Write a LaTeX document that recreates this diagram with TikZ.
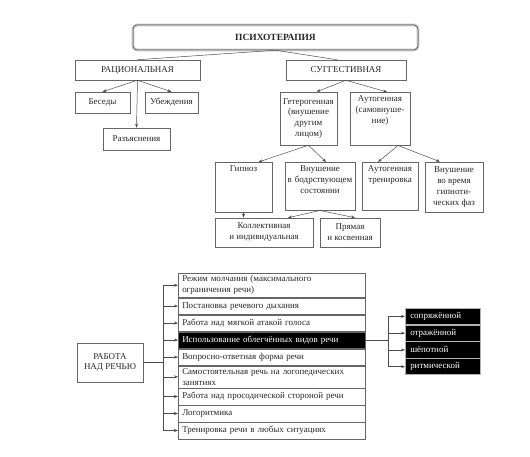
\documentclass[tikz,border=0pt]{standalone}
\usepackage{fontspec}
\setmainfont{Liberation Serif}
\usetikzlibrary{arrows.meta, positioning, calc}

\begin{document}
\begin{tikzpicture}[
    x=1bp, y=-1bp,
    >={Stealth[length=4pt, width=3pt]},
    font=\fontsize{9}{11}\selectfont,
    base/.style={draw=black!60, align=center, line width=0.5pt, inner xsep=2pt, inner ysep=2.5pt, text=black!85},
    head/.style={base, rounded corners=4bp, draw=black!70, preaction={draw=gray!45, line width=2.6pt}, minimum width=285bp, minimum height=25bp, font=\fontsize{9.5}{11}\selectfont\bfseries},
    block/.style 2 args={base, minimum width=#1, minimum height=#2},
    topal/.style 2 args={anchor=north, text width=#1, text height=7bp, text depth=#2},
    item/.style={base, align=left, text width=179bp, inner xsep=4bp, minimum height=16.5bp},
    dark/.style={fill=black, text=white},
    mode/.style={base, draw=gray!60, fill=black, text=white, align=left, text width=65bp, inner xsep=5bp, minimum height=16.25bp},
    link/.style={draw=black!70, line width=0.5pt},
    arrow/.style={->, link}
  ]
    \useasboundingbox (0,0) rectangle (530,457);
    \node[head] (psy) at (275.5,37.5) {ПСИХОТЕРАПИЯ};
    \node[block={125bp}{20bp}] (rac) at (137.5,70) {РАЦИОНАЛЬНАЯ};
    \node[block={120bp}{20bp}] (sug) at (346,70) {СУГГЕСТИВНАЯ};
    \node[block={55bp}{21bp}] (besedy) at (102.5,102.5) {Беседы};
    \node[block={53bp}{21bp}] (ubezh) at (171.5,102.5) {Убеждения};
    \node[block={67bp}{22bp}] (razyasn) at (136.5,139) {Разъяснения};
    \node[block={57bp}{53bp}] (getero) at (308.5,118.5)
    {Гетерогенная\\(внушение\\другим\\лицом)};
    \node[base, topal={56bp}{41bp}] (auto) at (380,92)
    {Аутогенная\\(самовнуше-\\ние)};
    \node[base, topal={53bp}{38bp}] (gipnoz) at (243.5,162) {Гипноз};
    \node[base, topal={66bp}{36bp}] (bodr) at (320,162)
    {Внушение\\в бодрствующем\\состоянии};
    \node[base, topal={52bp}{36bp}] (autotr) at (390,162)
    {Аутогенная\\тренировка};
    \node[block={58bp}{50bp}] (vovremya) at (454,187)
    {Внушение\\во время\\гипноти-\\ческих фаз};
    \node[block={98bp}{29bp}] (kollekt) at (264,232.5)
    {Коллективная\\и индивидуальная};
    \node[block={60bp}{29bp}] (pryam) at (350,232.5) {Прямая\\и косвенная};
    \draw[link] (psy.south) -- (rac.north);
    \draw[link] (psy.south) -- ([xshift=-9bp]sug.north);
    \draw[arrow] (rac.south) -- (besedy.north);
    \draw[arrow] (rac.south) -- (ubezh.north);
    \draw[arrow] (rac.south) -- (razyasn.north);
    \draw[arrow] (sug.south) -- ([xshift=8bp]getero.north);
    \draw[arrow] (sug.south) -- ([xshift=7bp]auto.north);
    \draw[arrow] (getero.south) -- ([xshift=15bp]gipnoz.north);
    \draw[arrow] (getero.south) -- ([xshift=6bp]bodr.north);
    \draw[arrow] ([xshift=18bp]auto.south) -- ([xshift=-12bp]autotr.north);
    \draw[arrow] ([xshift=18bp]auto.south) -- ([xshift=-14bp]vovremya.north);
    \draw[arrow] (gipnoz.south) -- (gipnoz.south |- kollekt.north);
    \draw[arrow] (bodr.south) -- ([xshift=24bp]kollekt.north);
    \draw[arrow] (bodr.south) -- ([xshift=5bp]pryam.north);

    \node[block={66bp}{39bp}] (rabota) at (110,362.5) {РАБОТА\\НАД РЕЧЬЮ};
    \node[item, anchor=north west] (r1) at (178,273)
    {Режим молчания (максимального\\ограничения речи)};
    \node[item, below=0pt of r1] (r2) {Постановка речевого дыхания};
    \node[item, below=0pt of r2] (r3) {Работа над мягкой атакой голоса};
    \node[item, dark, below=0pt of r3] (r4) {Использование облегчённых видов речи};
    \node[item, below=0pt of r4] (r5) {Вопросно-ответная форма речи};
    \node[item, below=0pt of r5] (r6)
    {Самостоятельная речь на логопедических\\занятиях};
    \node[item, below=0pt of r6] (r7) {Работа над просодической стороной речи};
    \node[item, below=0pt of r7] (r8) {Логоритмика};
    \node[item, below=0pt of r8] (r9) {Тренировка речи в любых ситуациях};
    \node[mode, anchor=north west] (b1) at (405,308) {сопряжённой};
    \node[mode, below=0pt of b1] (b2) {отражённой};
    \node[mode, below=0pt of b2] (b3) {шёпотной};
    \node[mode, below=0pt of b3] (b4) {ритмической};
    \coordinate (trunk) at (163,0);
    \coordinate (fork) at (388,0);
    \draw[link] (rabota.east) -- (rabota.east -| trunk);
    \draw[link] (trunk |- r1.west) -- (trunk |- r9.west);
    \foreach \i in {1,...,9}
      \draw[arrow] (trunk |- r\i.west) -- (r\i.west);
    \draw[link] (r4.east) -- (r4.east -| fork);
    \draw[link] (fork |- b1.west) -- (fork |- b4.west);
    \foreach \i in {1,...,4}
      \draw[arrow] (fork |- b\i.west) -- (b\i.west);
  \end{tikzpicture}
\end{document}
